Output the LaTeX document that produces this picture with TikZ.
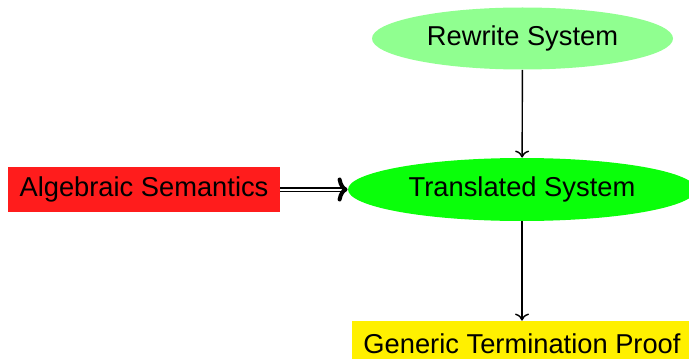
\documentclass[tikz,border=0pt]{standalone}
\usepackage{fontspec}
\setmainfont{Liberation Sans}
\usetikzlibrary{shapes.geometric,arrows.meta}
\definecolor{lightgr}{RGB}{144,255,144}
\definecolor{fullgr}{RGB}{10,255,10}
\definecolor{boxred}{RGB}{255,28,28}
\definecolor{boxyel}{RGB}{255,240,0}
\tikzset{
  lbl/.style={font=\fontsize{13.65}{16}\selectfont, text=black, inner sep=0pt},
  ell/.style={lbl, ellipse, draw=none},
  rectbox/.style={lbl, rectangle, draw=none},
  conn/.style={line width=0.7pt, -{To[length=3.5pt,width=7pt]}},
  dconn/.style={double, line width=0.75pt, double distance=1pt, -{To[length=5pt,width=12pt,line width=2pt,round]}},
}
\begin{document}
\begin{tikzpicture}[x=0.5pt,y=-0.5pt]
\useasboundingbox (0,0) rectangle (689,358);
\node[ell, fill=lightgr, minimum width=150.5pt, minimum height=31pt] (rw) at (522.5,38.5) {Rewrite System};
\node[ell, fill=fullgr, minimum width=174pt, minimum height=31.5pt] (ts) at (522,189.5) {Translated System};
\node[rectbox, fill=boxred, minimum width=136pt, minimum height=22.5pt] (as) at (144,189.5) {Algebraic Semantics};
\node[rectbox, fill=boxyel, minimum width=170pt, minimum height=22.5pt] (gt) at (522,343.5) {Generic Termination Proof};
\draw[conn] (rw) -- (ts);
\draw[conn] (ts) -- (gt);
\draw[dconn] (as) -- (ts);
\end{tikzpicture}
\end{document}
